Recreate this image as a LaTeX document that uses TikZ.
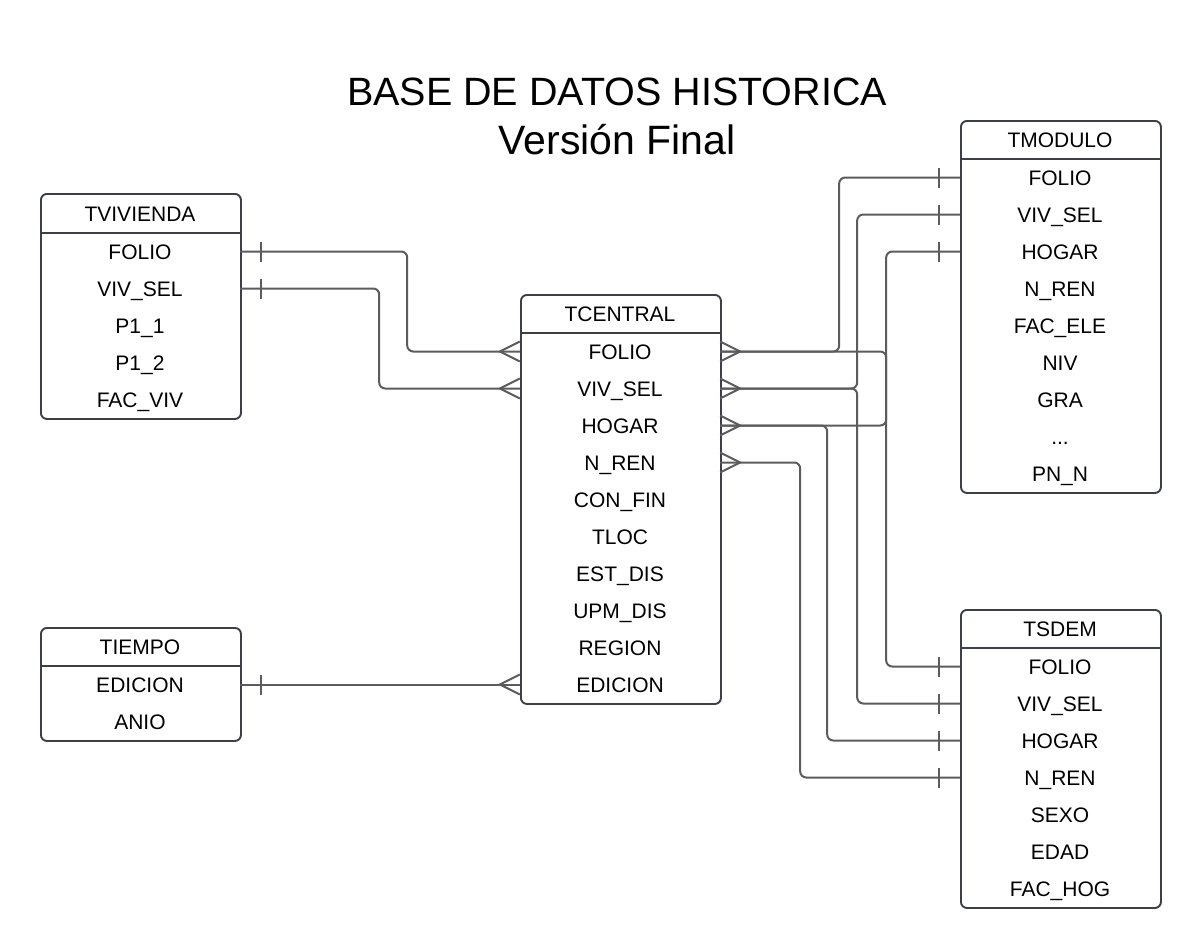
\documentclass[tikz,border=0pt]{standalone}
\usepackage{fontspec}
\setmainfont{Liberation Sans}
\usetikzlibrary{calc}
\definecolor{boxc}{HTML}{3C3F46}
\definecolor{connc}{HTML}{5C5C5C}
\tikzset{
  tframe/.style={draw=boxc, line width=1.9pt, rounded corners=6pt, minimum width=200pt, inner sep=0pt},
  divline/.style={draw=boxc, line width=1.9pt},
  htxt/.style={inner sep=0pt, text height=16pt, text depth=0pt, font=\fontsize{21}{22}\selectfont, text=black},
  rtxt/.style={inner sep=0pt, minimum width=200pt, minimum height=37pt, text height=16pt, text depth=0pt, font=\fontsize{21}{22}\selectfont, text=black},
  conn/.style={draw=connc, line width=2pt, rounded corners=6pt},
  crow/.style={draw=connc, line width=2pt},
  ttl/.style={inner sep=0pt, font=\fontsize{39.5}{40}\selectfont, text=black},
  subttl/.style={inner sep=0pt, font=\fontsize{41}{42}\selectfont, text=black}
}
\newcommand{\ertable}[7]{%
  \node[tframe, minimum height={#4-#3+#5*37}, anchor=north west] (#1) at (#2,#3) {};
  \node[htxt] (#1-h) at ({#2+100},{(#3+#4)/2}) {#6};
  \draw[divline] (#2,#4) -- ({#2+200},#4);
  \foreach \r [count=\i] in {#7} {\node[rtxt] (#1-\i) at ({#2+100},{#4+\i*37-18.5}) {\r};}
}
\newcommand{\crowL}[1]{\draw[crow] ($(#1.west)+(0,-10)$) -- ($(#1.west)+(-20,0)$) -- ($(#1.west)+(0,10)$);}
\newcommand{\crowR}[1]{\draw[crow] ($(#1.east)+(0,-10)$) -- ($(#1.east)+(20,0)$) -- ($(#1.east)+(0,10)$);}
\newcommand{\barR}[1]{\draw[crow] ($(#1.east)+(21,-10)$) -- ($(#1.east)+(21,10)$);}
\newcommand{\barL}[1]{\draw[crow] ($(#1.west)+(-21,-10)$) -- ($(#1.west)+(-21,10)$);}
\begin{document}
\begin{tikzpicture}[x=1pt,y=-1pt]
\path[use as bounding box, fill=white] (0,0) rectangle (1200,948);

\node[ttl] (title) at (617,92) {BASE DE DATOS HISTORICA};
\node[subttl] (subtitle) at (617,140) {Versión Final};

\ertable{tv}{40}{193}{233}{5}{TVIVIENDA}{FOLIO,VIV\_SEL,P1\_1,P1\_2,FAC\_VIV}
\ertable{ti}{40}{627}{666}{2}{TIEMPO}{EDICION,ANIO}
\ertable{tc}{520}{294}{333}{10}{TCENTRAL}{FOLIO,VIV\_SEL,HOGAR,N\_REN,CON\_FIN,TLOC,EST\_DIS,UPM\_DIS,REGION,EDICION}
\ertable{tm}{960}{120}{159}{9}{TMODULO}{FOLIO,VIV\_SEL,HOGAR,N\_REN,FAC\_ELE,NIV,GRA,{.{}.{}.},PN\_N}
\ertable{ts}{960}{609}{648}{7}{TSDEM}{FOLIO,VIV\_SEL,HOGAR,N\_REN,SEXO,EDAD,FAC\_HOG}

% connectors
\draw[conn] (tc-1.east) -- ++(166,0) |- (ts-1.west);
\draw[conn] (tc-2.east) -- ++(137,0) |- (ts-2.west);
\draw[conn] (tc-3.east) -- ++(107,0) |- (ts-3.west);
\draw[conn] (tc-4.east) -- ++(80,0) |- (ts-4.west);
\draw[conn] (tc-1.east) -- ++(119,0) |- (tm-1.west);
\draw[conn] (tc-2.east) -- ++(137,0) |- (tm-2.west);
\draw[conn] (tc-3.east) -- ++(166,0) |- (tm-3.west);
\draw[conn] (tv-1.east) -- ++(167,0) |- (tc-1.west);
\draw[conn] (tv-2.east) -- ++(139,0) |- (tc-2.west);
\draw[conn] (ti-1.east) -- (tc-10.west);

% crow's feet (many)
\crowL{tc-1}\crowL{tc-2}\crowL{tc-10}
\crowR{tc-1}\crowR{tc-2}\crowR{tc-3}\crowR{tc-4}
% bars (one)
\barR{tv-1}\barR{tv-2}\barR{ti-1}
\barL{tm-1}\barL{tm-2}\barL{tm-3}
\barL{ts-1}\barL{ts-2}\barL{ts-3}\barL{ts-4}
\end{tikzpicture}
\end{document}
